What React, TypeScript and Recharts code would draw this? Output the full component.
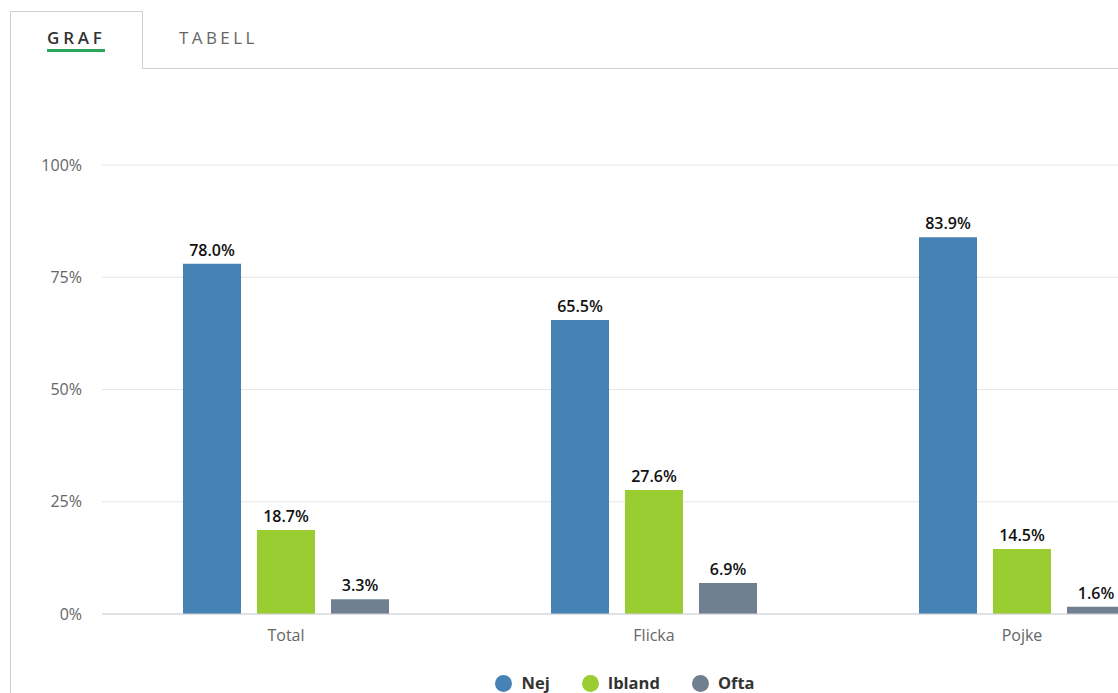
import React from "react";
import { BarChart, Bar, XAxis, YAxis, CartesianGrid, LabelList } from "recharts";

const categories = ["Total", "Flicka", "Pojke"];
const nej = [78.0, 65.5, 83.9];
const ibland = [18.7, 27.6, 14.5];
const ofta = [3.3, 6.9, 1.6];
const yTicks = [0, 25, 50, 75, 100];
const seriesNames = ["Nej", "Ibland", "Ofta"];
const seriesColors = ["#4682b4", "#9acd32", "#708090"];
const tabs = ["GRAF", "TABELL"];

const data = categories.map((c, i) => ({ name: c, Nej: nej[i], Ibland: ibland[i], Ofta: ofta[i] }));

const FONT = "'Open Sans', 'DejaVu Sans', sans-serif";

export default function App() {
  return (
    <div style={{ position: "fixed", left: 0, top: 0, width: 1118, height: 693, overflow: "hidden", background: "#fff", fontFamily: FONT }}>
      {/* tab box */}
      <div style={{ position: "absolute", left: 10, top: 11, width: 131, height: 57, borderTop: "1px solid #cfcfcf", borderLeft: "1px solid #cfcfcf", borderRight: "1px solid #cfcfcf", background: "#fff" }} />
      <div style={{ position: "absolute", left: 142, top: 68, width: 1000, borderTop: "1px solid #cfcfcf" }} />
      <div style={{ position: "absolute", left: 10, top: 68, height: 700, borderLeft: "1px solid #cfcfcf" }} />
      <div style={{ position: "absolute", left: 47, top: 27, fontSize: 17, fontWeight: 600, letterSpacing: 3.8, color: "#333", lineHeight: "22px" }}>
        {tabs[0]}
      </div>
      <div style={{ position: "absolute", left: 47, top: 49, width: 58, height: 3, background: "#2aa55a" }} />
      <div style={{ position: "absolute", left: 179, top: 27, fontSize: 17, fontWeight: 400, letterSpacing: 3.4, color: "#666", lineHeight: "22px" }}>
        {tabs[1]}
      </div>

      <div style={{ position: "absolute", left: 10, top: 70 }}>
        <BarChart
          width={1210}
          height={640}
          data={data}
          margin={{ top: 95, right: 14, bottom: 66, left: 0 }}
          barGap={16}
          barSize={58}
        >
          <CartesianGrid vertical={false} stroke="#e6e6e6" />
          <XAxis
            dataKey="name"
            height={30}
            tickLine={false}
            axisLine={{ stroke: "#ccd0d6", strokeWidth: 1 }}
            tick={{ fill: "#666", fontSize: 16, fontFamily: FONT }}
            tickMargin={10}
          />
          <YAxis
            width={92}
            domain={[0, 100]}
            ticks={yTicks}
            tickFormatter={(v) => `${v}%`}
            axisLine={false}
            tickLine={false}
            tickSize={6}
            tickMargin={14}
            tick={{ fill: "#666", fontSize: 16, fontFamily: FONT }}
          />
          {seriesNames.map((s, i) => (
            <Bar key={s} dataKey={s} fill={seriesColors[i]} isAnimationActive={false}>
              <LabelList
                dataKey={s}
                position="top"
                offset={8}
                formatter={(v: number) => `${v.toFixed(1)}%`}
                style={{ fill: "#111", fontSize: 16, fontWeight: 600, fontFamily: FONT }}
              />
            </Bar>
          ))}
        </BarChart>
      </div>

      {/* legend */}
      <div style={{ position: "absolute", left: 0, width: 1250, top: 672, display: "flex", justifyContent: "center", alignItems: "center" }}>
        {seriesNames.map((s, i) => (
          <div key={s} style={{ display: "flex", alignItems: "center", marginLeft: i === 0 ? 0 : 32 }}>
            <span style={{ display: "inline-block", width: 17, height: 17, borderRadius: 9, background: seriesColors[i], marginRight: 9 }} />
            <span style={{ fontSize: 16.5, fontWeight: 700, color: "#333", lineHeight: "22px" }}>{s}</span>
          </div>
        ))}
      </div>
    </div>
  );
}
